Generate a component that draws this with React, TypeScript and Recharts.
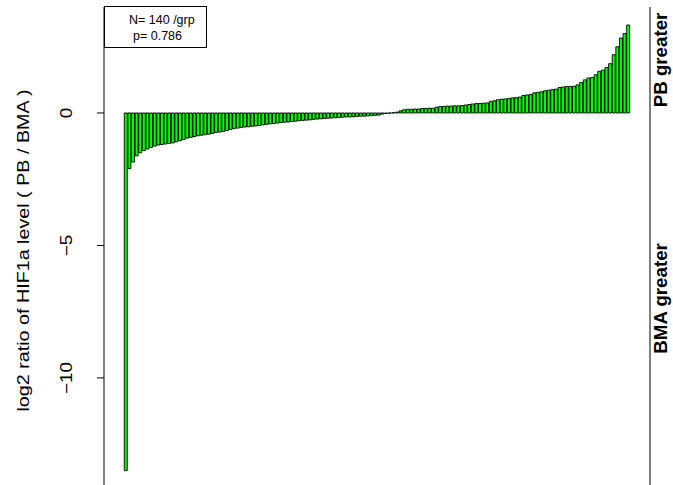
import { BarChart, Bar, XAxis, YAxis, Legend } from "recharts";

// log2(PB / BMA) per sample, sorted ascending
const ratios = [
  -13.5, -2.1, -1.85, -1.62, -1.5, -1.42, -1.36, -1.3, -1.25, -1.21,
  -1.19, -1.17, -1.15, -1.13, -1.09, -1.05, -1.0, -0.95, -0.92, -0.89,
  -0.86, -0.84, -0.82, -0.8, -0.77, -0.74, -0.72, -0.7, -0.66, -0.62,
  -0.59, -0.57, -0.55, -0.53, -0.52, -0.5, -0.49, -0.47, -0.45, -0.43,
  -0.41, -0.4, -0.38, -0.36, -0.35, -0.34, -0.32, -0.31, -0.29, -0.28,
  -0.27, -0.26, -0.24, -0.23, -0.22, -0.21, -0.2, -0.19, -0.18, -0.17,
  -0.16, -0.15, -0.15, -0.14, -0.13, -0.12, -0.12, -0.11, -0.1, -0.09,
  -0.08, -0.04, -0.02, -0.01, 0.01, 0.03, 0.08, 0.12, 0.14, 0.14,
  0.15, 0.15, 0.17, 0.17, 0.18, 0.18, 0.22, 0.24, 0.25, 0.26,
  0.26, 0.27, 0.27, 0.28, 0.3, 0.32, 0.34, 0.36, 0.36, 0.37,
  0.38, 0.44, 0.46, 0.5, 0.52, 0.53, 0.55, 0.57, 0.58, 0.6,
  0.66, 0.68, 0.7, 0.76, 0.78, 0.8, 0.84, 0.86, 0.88, 0.9,
  0.96, 0.98, 1.0, 1.0, 1.01, 1.06, 1.15, 1.25, 1.32, 1.34,
  1.44, 1.57, 1.62, 1.72, 1.86, 2.2, 2.5, 2.83, 3.0, 3.32,
];
const sampleIds = ratios.map((_, i) => `s${i + 1}`);

const yTicks = [-10, -5, 0];
const yTitle = "log2 ratio of HIF1a level ( PB / BMA )";
const sideTicks = [2, -7];
const sideLabels = ["PB greater", "BMA greater"];
const legendLines = ["N= 140 /grp", "p= 0.786"];

const data = sampleIds.map((id, i) => ({ id, ratio: ratios[i] }));

const FONT = "'Liberation Sans', Arial, sans-serif";

// rotated text is a little stretched along its length
const LeftTick = (props: any) => {
  const { x, y, payload } = props;
  const v = payload.value as number;
  const txt = v < 0 ? `\u2212${Math.abs(v)}` : `${v}`;
  return (
    <text
      transform={`translate(${x - 23}, ${y}) rotate(-90) scale(1.18, 1)`}
      textAnchor="middle"
      fontSize={16}
      fontFamily={FONT}
      fill="#000"
    >
      {txt}
    </text>
  );
};

const SideTick = (props: any) => {
  const { x, y, index } = props;
  return (
    <text
      transform={`translate(${x + 15}, ${y}) rotate(-90) scale(1.04, 1)`}
      textAnchor="middle"
      fontSize={18}
      fontWeight="bold"
      fontFamily={FONT}
      fill="#000"
    >
      {sideLabels[index]}
    </text>
  );
};

const YTitle = (props: any) => {
  const vb = props.viewBox;
  return (
    <text
      transform={`translate(29, ${vb.y + vb.height / 2 + 2}) rotate(-90) scale(1.16, 1)`}
      textAnchor="middle"
      fontSize={17}
      fontFamily={FONT}
      fill="#000"
    >
      {yTitle}
    </text>
  );
};

const LegendBox = () => (
  <div
    style={{
      width: 101,
      height: 40,
      border: "1px solid #000",
      background: "#fff",
      fontFamily: FONT,
      fontSize: 12.5,
      lineHeight: "16px",
      color: "#000",
      boxSizing: "content-box",
    }}
  >
    <div style={{ marginLeft: 24, marginTop: 5 }}>{legendLines[0]}</div>
    <div style={{ marginLeft: 28 }}>{legendLines[1]}</div>
  </div>
);

export default function App() {
  return (
    <div style={{ position: "absolute", left: 0, top: 0, background: "#fff" }}>
      <BarChart
        width={673}
        height={495}
        data={data}
        margin={{ top: 7, right: 0, bottom: 5, left: 0 }}
        barCategoryGap="8%"
      >
        <XAxis dataKey="id" hide padding={{ left: 20, right: 20 }} />
        <XAxis
          xAxisId="top"
          orientation="top"
          dataKey="id"
          height={0}
          tick={false}
          tickLine={false}
          axisLine={{ stroke: "#000" }}
        />
        <YAxis
          width={104}
          domain={[-14.23, 4.0]}
          allowDataOverflow
          ticks={yTicks}
          tickSize={7}
          tick={<LeftTick />}
          tickLine={{ stroke: "#000" }}
          axisLine={{ stroke: "#000" }}
          label={<YTitle />}
        />
        <YAxis
          yAxisId="side"
          orientation="right"
          width={23}
          domain={[-14.23, 4.0]}
          allowDataOverflow
          ticks={sideTicks}
          tickSize={0}
          tick={<SideTick />}
          tickLine={false}
          axisLine={{ stroke: "#000" }}
        />
        <Legend
          layout="horizontal"
          verticalAlign="middle"
          content={<LegendBox />}
          wrapperStyle={{ position: "absolute", top: 6, left: 104, width: "auto" }}
        />
        <Bar
          dataKey="ratio"
          fill="#00ff00"
          stroke="#000"
          strokeWidth={0.9}
          isAnimationActive={false}
        />
      </BarChart>
    </div>
  );
}
